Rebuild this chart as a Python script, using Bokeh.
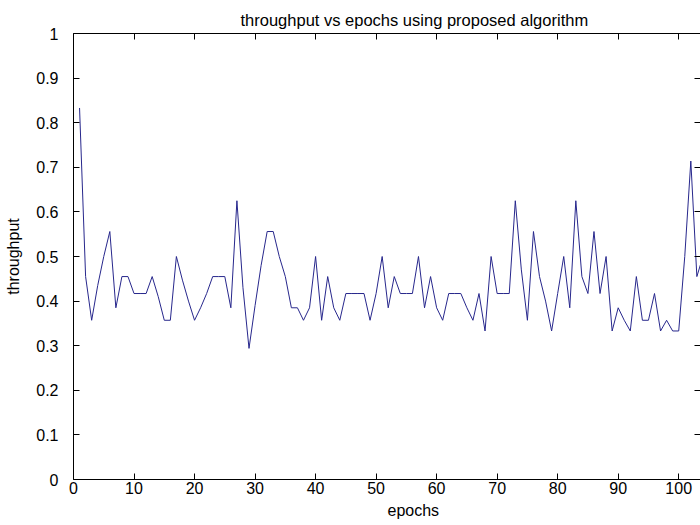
from bokeh.plotting import figure
from bokeh.models import Range1d, FixedTicker, LinearAxis, Title
from bokeh.embed import file_html
from bokeh.resources import INLINE

# ---- data ----
epochs = list(range(1, 105))
throughput = [
    0.833, 0.455, 0.357, 0.435, 0.5, 0.556, 0.385, 0.455, 0.455, 0.417,   # 1-10
    0.417, 0.417, 0.455, 0.41, 0.357, 0.357, 0.5, 0.447, 0.40, 0.357,     # 11-20
    0.385, 0.417, 0.455, 0.455, 0.455, 0.385, 0.625, 0.43, 0.294, 0.39,   # 21-30
    0.48, 0.556, 0.556, 0.5, 0.455, 0.385, 0.385, 0.357, 0.385, 0.5,      # 31-40
    0.357, 0.455, 0.385, 0.357, 0.417, 0.417, 0.417, 0.417, 0.357, 0.417, # 41-50
    0.5, 0.385, 0.455, 0.417, 0.417, 0.417, 0.5, 0.385, 0.455, 0.385,     # 51-60
    0.357, 0.417, 0.417, 0.417, 0.385, 0.357, 0.417, 0.333, 0.5, 0.417,   # 61-70
    0.417, 0.417, 0.625, 0.47, 0.357, 0.556, 0.455, 0.40, 0.333, 0.417,   # 71-80
    0.5, 0.385, 0.625, 0.455, 0.417, 0.556, 0.417, 0.5, 0.333, 0.385,     # 81-90
    0.357, 0.333, 0.455, 0.357, 0.357, 0.417, 0.333, 0.357, 0.333, 0.333, # 91-100
    0.5, 0.714, 0.455, 0.5,                                               # 101-104
]
x_ticks = [0, 10, 20, 30, 40, 50, 60, 70, 80, 90, 100]
y_ticks = [0, 0.1, 0.2, 0.3, 0.4, 0.5, 0.6, 0.7, 0.8, 0.9, 1]
y_tick_labels = {0: "0", 1: "1"}

title_text = "throughput vs epochs using proposed algorithm"
x_label = "epochs"
y_label = "throughput"

FONT = "Liberation Sans"
FS = "16px"

p = figure(width=700, height=525, output_backend="svg", toolbar_location=None,
           x_range=Range1d(0, 103.6), y_range=Range1d(0, 1),
           min_border_left=73, min_border_right=0, min_border_top=33,
           min_border_bottom=46, background_fill_color="white",
           border_fill_color="white")

p.title.text = title_text
p.title.align = "left"
p.title.offset = 167
p.title.standoff = 10
p.title.text_font = FONT
p.title.text_font_size = "16.5px"
p.title.text_font_style = "normal"
p.title.text_color = "black"

p.outline_line_color = None
p.xgrid.visible = False
p.ygrid.visible = False

for ax in (p.xaxis[0], p.yaxis[0]):
    ax.major_tick_in = 6
    ax.major_tick_out = 0
    ax.minor_tick_in = 0
    ax.minor_tick_out = 0
    ax.axis_line_color = "black"
    ax.major_tick_line_color = "black"
    ax.major_label_text_font = FONT
    ax.major_label_text_font_size = FS
    ax.major_label_text_color = "black"

p.xaxis[0].ticker = FixedTicker(ticks=x_ticks)
p.xaxis[0].major_label_standoff = 2

p.yaxis[0].ticker = FixedTicker(ticks=y_ticks)
p.yaxis[0].major_label_overrides = y_tick_labels
p.yaxis[0].major_label_standoff = 15
p.yaxis[0].axis_label = y_label
p.yaxis[0].axis_label_standoff = 11
p.yaxis[0].axis_label_text_font = FONT
p.yaxis[0].axis_label_text_font_size = FS
p.yaxis[0].axis_label_text_font_style = "normal"
p.yaxis[0].axis_label_text_color = "black"

top = LinearAxis(ticker=FixedTicker(ticks=x_ticks), major_tick_in=6, major_tick_out=0,
                 minor_tick_in=0, minor_tick_out=0, major_label_text_font_size="0px",
                 major_label_text_color=None, major_label_standoff=0,
                 axis_line_color="black")
p.add_layout(top, "above")

right = LinearAxis(ticker=FixedTicker(ticks=y_ticks), major_tick_in=6, major_tick_out=0,
                   minor_tick_in=0, minor_tick_out=0, major_label_text_font_size="0px",
                   major_label_text_color=None, major_label_standoff=0,
                   axis_line_color=None)
p.add_layout(right, "right")

p.add_layout(Title(text=x_label, align="left", offset=314, standoff=6,
                   text_font=FONT, text_font_size=FS, text_font_style="normal",
                   text_color="black"), "below")

p.line(epochs, throughput, line_color="#27278c", line_width=1)

open("out.html", "w").write(file_html(p, INLINE))
